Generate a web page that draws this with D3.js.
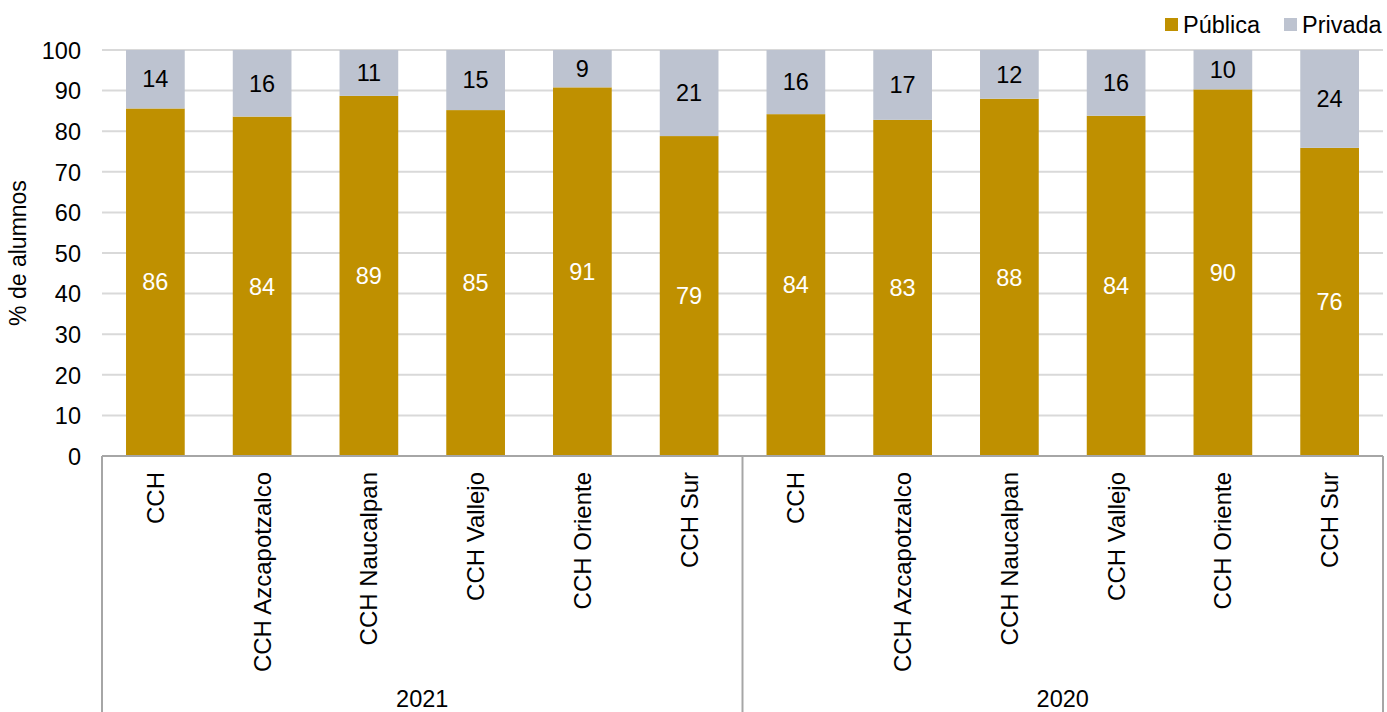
<!DOCTYPE html>
<html><head><meta charset="utf-8">
<script src="https://cdn.jsdelivr.net/npm/d3@7"></script>
<style>body{margin:0;background:#fff;}svg{display:block;font-family:"Liberation Sans",Arial,sans-serif;}</style>
</head><body>
<svg id="c" width="1387" height="712"></svg>
<script>
const categories = ["CCH","CCH Azcapotzalco","CCH Naucalpan","CCH Vallejo","CCH Oriente","CCH Sur"];
const groups = ["2021","2020"];
const publica = [85.6,83.6,88.7,85.2,90.8,78.8, 84.2,82.8,88.0,83.8,90.3,75.9];
const privada = [14.4,16.4,11.3,14.8,9.2,21.2, 15.8,17.2,12.0,16.2,9.7,24.1];
const yTicks = [0,10,20,30,40,50,60,70,80,90,100];
const seriesNames = ["Pública","Privada"];
const colors = ["#BF9000","#BDC3D0"];

const svg = d3.select("#c");
const L = 102, R = 1383, T = 50, B = 456;
const FS = 23.5;
const keys = [];
groups.forEach(g => categories.forEach(c => keys.push(g + "|" + c)));
const x = d3.scaleBand().domain(keys).range([L, R]).paddingInner(0.45).paddingOuter(0.225);
const y = d3.scaleLinear().domain([0,100]).range([B, T]);

// grid
svg.append("g").selectAll("line").data(yTicks.filter(d=>d>0)).join("line")
  .attr("x1", L).attr("x2", R).attr("y1", d=>y(d)).attr("y2", d=>y(d))
  .attr("stroke","#D9D9D9").attr("stroke-width",2);

// y axis labels
const yAxis = d3.axisLeft(y).tickValues(yTicks).tickSize(0).tickPadding(21);
const ya = svg.append("g").attr("transform",`translate(${L},0)`).call(yAxis);
ya.select(".domain").remove();
ya.selectAll("text").attr("font-size",FS).attr("fill","#000").attr("font-family","Liberation Sans, Arial, sans-serif").attr("dy","0.35em");

svg.append("text").attr("transform",`translate(26,${(T+B)/2}) rotate(-90)`)
  .attr("text-anchor","middle").attr("font-size",23).attr("fill","#000").text("% de alumnos");

// stacked bars
const rows = keys.map((k,i)=>({key:k, "Pública":publica[i], "Privada":privada[i]}));
const stack = d3.stack().keys(seriesNames)(rows);
const layers = svg.append("g").selectAll("g").data(stack).join("g").attr("fill",(d,i)=>colors[i]);
layers.selectAll("rect").data(d=>d).join("rect")
  .attr("x", d=>x(d.data.key)).attr("width", x.bandwidth())
  .attr("y", d=>y(d[1])).attr("height", d=>y(d[0])-y(d[1]));

// labels
const fmt = d3.format(".0f");
stack.forEach((layer,si)=>{
  svg.append("g").selectAll("text").data(layer).join("text")
    .attr("x", d=>x(d.data.key)+x.bandwidth()/2)
    .attr("y", d=>(y(d[0])+y(d[1]))/2)
    .attr("dy","0.35em").attr("text-anchor","middle").attr("font-size",FS)
    .attr("fill", si===0 ? "#fff" : "#000")
    .text(d=>fmt(d[1]-d[0]));
});

// category axis lines
const ax = "#A6A6A6";
svg.append("line").attr("x1",L).attr("x2",R).attr("y1",B).attr("y2",B).attr("stroke",ax).attr("stroke-width",2);
const mid = L + (R-L)/2;
[L, mid, R].forEach(sx=>{
  svg.append("line").attr("x1",sx).attr("x2",sx).attr("y1",B).attr("y2",712).attr("stroke",ax).attr("stroke-width",2);
});

// category labels rotated
svg.append("g").selectAll("text").data(keys).join("text")
  .attr("transform", d=>`translate(${x(d)+x.bandwidth()/2},${B+16}) rotate(-90)`)
  .attr("text-anchor","end").attr("dy","0.35em").attr("font-size",24).attr("fill","#000")
  .text(d=>d.split("|")[1]);

// group labels
svg.append("g").selectAll("text").data(groups).join("text")
  .attr("x",(d,i)=> L + (R-L)/4 + i*(R-L)/2).attr("y",707)
  .attr("text-anchor","middle").attr("font-size",FS).attr("fill","#000").text(d=>d);

// legend
const leg = svg.append("g");
const legX = [1165, 1284];
seriesNames.forEach((n,i)=>{
  leg.append("rect").attr("x",legX[i]).attr("y",18).attr("width",13).attr("height",13).attr("fill",colors[i]);
  leg.append("text").attr("x",legX[i]+18).attr("y",25).attr("dy","0.35em").attr("font-size",FS).attr("fill","#000").text(n);
});
</script>
</body></html>
